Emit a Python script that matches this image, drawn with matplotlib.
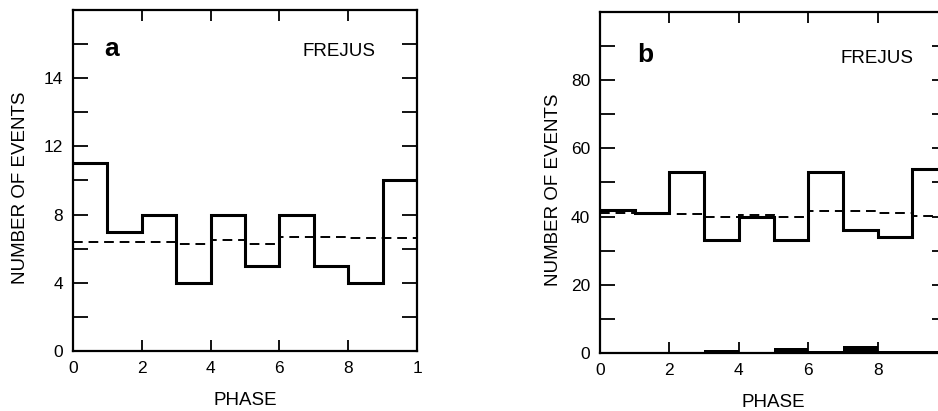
import numpy as np
import matplotlib
matplotlib.use("Agg")
import matplotlib.pyplot as plt

plt.rcParams['font.family'] = ['Liberation Sans', 'DejaVu Sans']

# Data
phase_edges = [0.0, 0.1, 0.2, 0.3, 0.4, 0.5, 0.6, 0.7, 0.8, 0.9, 1.0]
xtick_pos = [0.0, 0.2, 0.4, 0.6, 0.8, 1.0]
xtick_labels = ["0", "2", "4", "6", "8", "1"]

counts_a = [11, 7, 8, 4, 8, 5, 8, 5, 4, 10]
expected_a = [6.4, 6.4, 6.4, 6.3, 6.5, 6.3, 6.7, 6.7, 6.6, 6.6]
ytick_pos_a = [0, 4, 8, 12, 16]
ytick_labels_a = ["0", "4", "8", "12", "14"]

counts_b = [42, 41, 53, 33, 40, 33, 53, 36, 34, 54]
expected_b = [41, 41, 40.7, 40, 40.5, 40, 41.7, 41.7, 41, 40.3]
background_b = [0, 0, 0, 1, 0, 1.6, 0.5, 2, 0.6, 0.6]
ytick_pos_b = [0, 20, 40, 60, 80]
ytick_labels_b = ["0", "20", "40", "60", "80"]

W, H = 938, 411
fig = plt.figure(figsize=(W / 100, H / 100), dpi=100)


def px_axes(x0, x1, ytop, ybot):
    return fig.add_axes([x0 / W, (H - ybot) / H, (x1 - x0) / W, (ybot - ytop) / H])


def style(ax, ymax, minor_step, yticks, ylabels, ylab_x):
    ax.set_xlim(0, 1)
    ax.set_ylim(0, ymax)
    ax.set_xticks(xtick_pos)
    ax.set_xticklabels(xtick_labels, fontsize=12.5)
    ax.set_yticks(np.arange(0, ymax + 0.001, minor_step), minor=True)
    ax.set_yticks(yticks)
    ax.set_yticklabels(ylabels, fontsize=12.5)
    ax.tick_params(axis='both', which='both', direction='in', top=True, right=True,
                   width=1.3, color='black')
    ax.tick_params(axis='y', which='both', length=11, pad=7)
    ax.tick_params(axis='x', which='both', length=8, pad=7)
    for s in ax.spines.values():
        s.set_linewidth(1.6)
    ax.set_xlabel("PHASE", fontsize=13.5, labelpad=12)
    ax.set_ylabel("NUMBER OF EVENTS", fontsize=13.5)
    ax.yaxis.set_label_coords(ylab_x, 0.48)


# Panel a
ax1 = px_axes(73, 417, 10, 351)
ax1.stairs(counts_a, phase_edges, baseline=None, color='black', linewidth=2.2)
ax1.stairs(expected_a, phase_edges, baseline=None, color='black', linewidth=1.4,
           linestyle=(0, (5, 3)))
style(ax1, 20, 2, ytick_pos_a, ytick_labels_a, -0.128)
ax1.text(0.09, 17.3, "a", fontsize=19, fontweight='bold', ha='left', va='baseline')
ax1.text(0.666, 17.3, "FREJUS", fontsize=13.5, ha='left', va='baseline')

# Panel b
ax2 = px_axes(600, 947, 12, 353)
ax2.stairs(counts_b, phase_edges, baseline=None, color='black', linewidth=2.2)
ax2.stairs(expected_b, phase_edges, baseline=None, color='black', linewidth=1.4,
           linestyle=(0, (5, 3)))
ax2.stairs(background_b, phase_edges, baseline=0, fill=True, color='black')
style(ax2, 100, 10, ytick_pos_b, ytick_labels_b, -0.11)
ax2.text(0.107, 85.3, "b", fontsize=19, fontweight='bold', ha='left', va='baseline')
ax2.text(0.692, 85.0, "FREJUS", fontsize=13.5, ha='left', va='baseline')

fig.savefig("out.png", dpi=100)
